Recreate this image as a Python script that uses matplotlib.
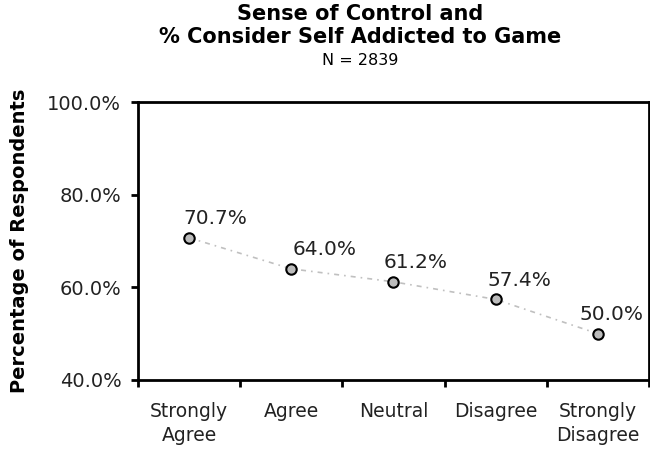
import matplotlib
matplotlib.use("Agg")
import matplotlib.pyplot as plt
from matplotlib.ticker import PercentFormatter

categories = ["Strongly\nAgree", "Agree", "Neutral", "Disagree", "Strongly\nDisagree"]
values = [70.7, 64.0, 61.2, 57.4, 50.0]
value_labels = ["70.7%", "64.0%", "61.2%", "57.4%", "50.0%"]

# small nudges of the data labels (points), as in the original chart
label_dx = [-4, 1, -7, -6, -13]

plt.rcParams['font.family'] = ['DejaVu Sans']

fig = plt.figure(figsize=(6.5, 4.49), dpi=100)
ax = fig.add_axes([0.2123, 0.1537, 0.786, 0.619])

x = list(range(len(values)))
ax.plot(x, values, linestyle=(0, (3, 3, 1, 3)), color='#c0c0c0', linewidth=1.2, zorder=1)
ax.plot(x, values, linestyle='', marker='o', markersize=7.5,
        markerfacecolor='#bcbcbc', markeredgecolor='black', markeredgewidth=1.5, zorder=2)

for xi, v, lab, dx in zip(x, values, value_labels, label_dx):
    ax.annotate(lab, (xi, v), xytext=(dx, 7), textcoords='offset points',
                ha='left', va='bottom', fontsize=14.5, color='#222222')

ax.set_xlim(-0.5, len(values) - 0.5)
ax.set_ylim(40, 100)
ax.set_yticks([40, 60, 80, 100])
ax.yaxis.set_major_formatter(PercentFormatter(decimals=1))
ax.set_xticks([i - 0.5 for i in range(len(values) + 1)])
ax.set_xticklabels([])
ax.set_xticks(x, minor=True)
ax.set_xticklabels(categories, minor=True, fontsize=13.5, linespacing=1.3)
ax.tick_params(axis='x', which='minor', length=0, pad=16)
ax.tick_params(axis='x', which='major', length=5, width=2, direction='out')
ax.tick_params(axis='y', length=5, width=2, direction='out', labelsize=14, pad=7,
               labelcolor='#222222')
ax.tick_params(axis='x', labelcolor='#222222', which='both')

for s in ax.spines.values():
    s.set_linewidth(2)

ax.set_ylabel("Percentage of Respondents", fontsize=14, fontweight='bold')
ax.yaxis.set_label_coords(-0.214, 0.5)

fig.text(0.554, 0.992, "Sense of Control and\n% Consider Self Addicted to Game",
         ha='center', va='top', fontsize=15, fontweight='bold', linespacing=1.2)
fig.text(0.554, 0.848, "N = 2839", ha='center', va='bottom', fontsize=11.5)

fig.savefig("out.png", dpi=100)
